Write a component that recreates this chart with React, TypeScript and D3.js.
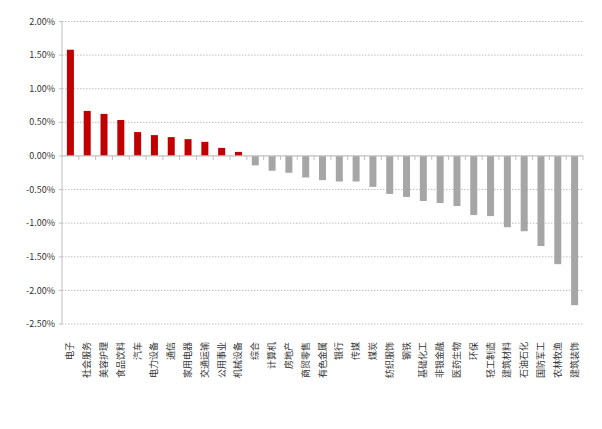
import React from "react";
import * as d3 from "d3";

const categories = ["电子","社会服务","美容护理","食品饮料","汽车","电力设备","通信","家用电器","交通运输","公用事业","机械设备","综合","计算机","房地产","商贸零售","有色金属","银行","传媒","煤炭","纺织服饰","钢铁","基础化工","非银金融","医药生物","环保","轻工制造","建筑材料","石油石化","国防军工","农林牧渔","建筑装饰"];
const values = [1.58,0.67,0.625,0.535,0.355,0.31,0.28,0.25,0.21,0.12,0.06,-0.14,-0.22,-0.25,-0.32,-0.36,-0.38,-0.38,-0.46,-0.565,-0.61,-0.67,-0.70,-0.745,-0.88,-0.895,-1.06,-1.12,-1.34,-1.61,-2.22];
const yTicks = [2.0,1.5,1.0,0.5,0,-0.5,-1.0,-1.5,-2.0,-2.5];

export default function App() {
  const W = 602, H = 429;
  const left = 62, right = 583, top = 21.5, bottom = 324;
  const x = d3.scaleBand<string>().domain(categories).range([left, right]).paddingInner(0).paddingOuter(0);
  const y = d3.scaleLinear().domain([-2.5, 2.0]).range([bottom, top]);
  const bw = 7;
  const font = "'Noto Sans CJK SC', 'Noto Sans', sans-serif";
  const y0 = y(0);
  return (
    <svg width={W} height={H} style={{ position: "absolute", left: 0, top: 0, background: "#fff" }}>
      {yTicks.filter(t => t !== 0).map(t => (
        <line key={"g" + t} x1={left} x2={right} y1={y(t)} y2={y(t)} stroke="#bfbfbf" strokeWidth={1} strokeDasharray="1.5,1.5" />
      ))}
      <line x1={left} x2={left} y1={top} y2={bottom} stroke="#bfbfbf" strokeWidth={1} />
      {yTicks.map(t => (
        <line key={"yt" + t} x1={left - 3} x2={left} y1={y(t)} y2={y(t)} stroke="#bfbfbf" />
      ))}
      {yTicks.map(t => (
        <text key={"yl" + t} x={55} y={y(t)} dy="0.35em" textAnchor="end" fontSize={9} fill="#333" fontFamily={font}>
          {t.toFixed(2) + "%"}
        </text>
      ))}
      {categories.map((c, i) => {
        const v = values[i];
        const cx = (x(c) as number) + x.bandwidth() / 2;
        return (
          <rect key={c} x={cx - bw / 2} y={Math.min(y(v), y0)} width={bw} height={Math.abs(y(v) - y0)} fill={v >= 0 ? "#c00000" : "#a6a6a6"} />
        );
      })}
      <line x1={left} x2={right} y1={y0} y2={y0} stroke="#bfbfbf" strokeWidth={1.2} />
      {categories.map((c, i) => (
        <line key={"xt" + c} x1={(x(c) as number) + x.bandwidth()} x2={(x(c) as number) + x.bandwidth()} y1={y0} y2={y0 + 4} stroke="#bfbfbf" />
      ))}
      {categories.map(c => {
        const cx = (x(c) as number) + x.bandwidth() / 2;
        return (
          <text key={"xl" + c} transform={`translate(${cx + 3},${342}) rotate(-90)`} textAnchor="end" fontSize={9} fill="#333" fontFamily={font}>
            {c}
          </text>
        );
      })}
    </svg>
  );
}
